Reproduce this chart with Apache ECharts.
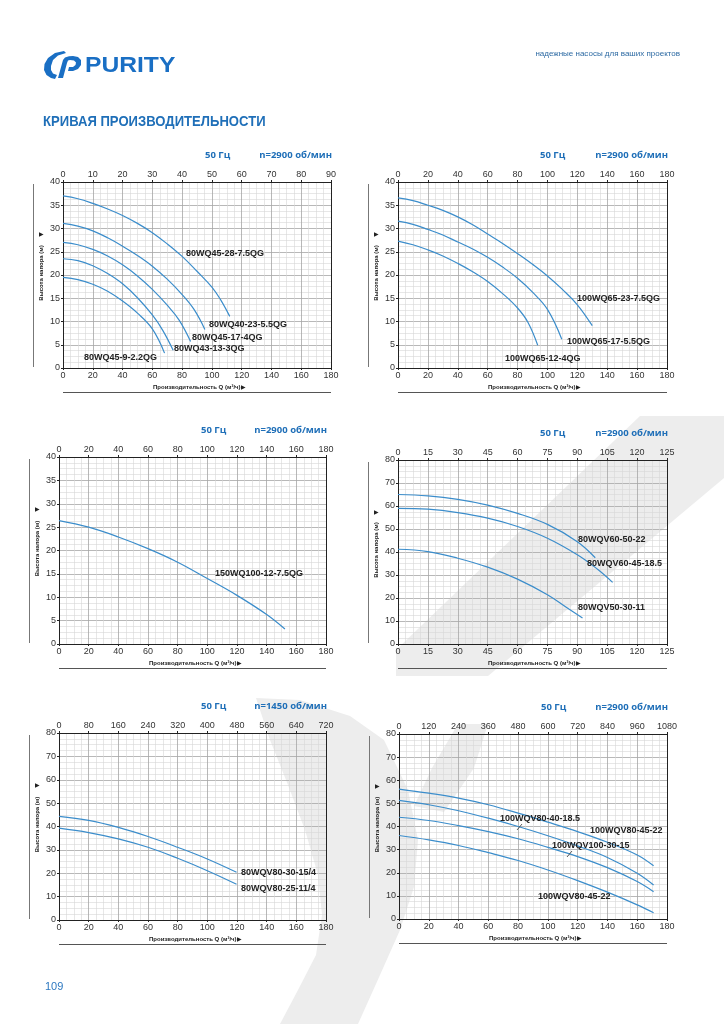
<!DOCTYPE html>
<html>
<head>
<meta charset="utf-8">
<script src="https://cdn.jsdelivr.net/npm/echarts@6/dist/echarts.min.js"></script>
<style>
html,body{margin:0;padding:0;background:#fff;}
#page{width:724px;height:1024px;}
</style>
</head>
<body>
<div id="page"></div>
<script>
// --- data, Q (m3/h) / H (m) pairs ---
// chart 1
var wq45_28_75 = [[0,37],[10,36.4],[20,35.4],[30,34.2],[40,32.8],[50,31.1],[60,29.1],[70,26.7],[80,24],[90,20.8],[100,17.4],[106,14.6],[112,11.1]];
var wq40_23_55 = [[0,31.1],[10,30.5],[20,29.5],[30,28],[40,26.2],[50,24.2],[60,21.9],[70,19.1],[80,15.8],[88,12.6],[95.3,8.3]];
var wq45_17_4 = [[0,27],[10,26.5],[20,25.5],[30,24.1],[40,22.2],[50,19.8],[60,16.9],[70,13.5],[78,10.3],[85.7,5.7]];
var wq43_13_3 = [[0,23.5],[10,23.1],[20,22],[30,20.3],[40,18.1],[50,15.1],[60,11.4],[67,8.1],[74,3.8]];
var wq45_9_22 = [[0,19.5],[10,19],[20,18],[30,16.5],[40,14.4],[50,11.8],[60,8.4],[68.2,3.2]];
// chart 2
var wq65_23_75 = [[0,36.6],[10,36],[20,35],[30,33.9],[40,32.5],[50,30.8],[60,28.8],[70,26.8],[80,24.6],[90,22.3],[100,19.8],[110,16.9],[120,13.6],[130,9.1]];
var wq65_17_55 = [[0,31.6],[10,30.9],[20,29.8],[30,28.6],[40,27.1],[50,25.6],[60,23.8],[70,21.7],[80,19.3],[90,16.3],[100,12.6],[109.6,6.2]];
var wq65_12_4 = [[0,27.3],[10,26.5],[20,25.4],[30,24.1],[40,22.5],[50,20.7],[60,18.6],[70,16],[80,12.9],[87,9.8],[93.5,4.9]];
// chart 3
var wq100_12_75 = [[0,26.4],[20,25],[40,22.9],[60,20.4],[80,17.5],[100,14],[120,10.4],[140,6.3],[152.3,3.2]];
// chart 4 (axis drawn 0..135, last label printed as 125)
var wqv60_50_22 = [[0,65],[15,64.4],[30,62.9],[45,60.4],[60,56.8],[75,52],[90,44.5],[99,37.5]];
var wqv60_45_185 = [[0,59],[15,58.6],[30,57.1],[45,54.7],[60,51.1],[75,46],[90,38.8],[100,32.6],[107.7,26.8]];
var wqv50_30_11 = [[0,41.2],[15,40.2],[30,37.3],[45,33.4],[60,28.2],[75,21.4],[85,15.6],[92.6,11.3]];
// chart 5
var wqv80_30_154 = [[0,44.3],[20,42.6],[40,39.6],[60,35.7],[80,31.1],[100,26.1],[119.7,20.4]];
var wqv80_25_114 = [[0,39.3],[20,37.4],[40,34.7],[60,31.1],[80,26.4],[100,21.1],[119.7,15.3]];
// chart 6
var wqv80_45_22a = [[0,56.2],[20,54.4],[40,52.3],[60,49.4],[80,45.8],[100,41.9],[120,37.8],[140,33.2],[160,27.7],[171,23]];
var wqv80_40_185 = [[0,51.3],[20,49.4],[40,46.8],[60,43.6],[80,40],[100,36],[120,31.6],[140,26.6],[160,19.8],[171,14.7]];
var wqv100_30_15 = [[0,44],[20,42.6],[40,40.4],[60,37.8],[80,34.7],[100,31],[120,27],[140,22.2],[160,16.2],[171,11.8]];
var wqv80_45_22b = [[0,36.1],[20,34.2],[40,31.8],[60,28.7],[80,25.3],[100,21.2],[120,16.6],[140,11.6],[160,6.1],[171,2.7]];

var panels = [
  {box:[63,182,331,368], xMax:180, xInt:20, topMax:90, topInt:10, yMax:40, yInt:5, rpm:'n=2900 об/мин',
   curves:[wq45_28_75, wq40_23_55, wq45_17_4, wq43_13_3, wq45_9_22],
   names:[['80WQ45-28-7.5QG',186,254],['80WQ40-23-5.5QG',209,325],['80WQ45-17-4QG',192,338],['80WQ43-13-3QG',174,349],['80WQ45-9-2.2QG',84,358]]},
  {box:[398,182,667,368], xMax:180, xInt:20, topMax:180, topInt:20, yMax:40, yInt:5, rpm:'n=2900 об/мин',
   curves:[wq65_23_75, wq65_17_55, wq65_12_4],
   names:[['100WQ65-23-7.5QG',577,299],['100WQ65-17-5.5QG',567,342],['100WQ65-12-4QG',505,359]]},
  {box:[59,457,326,644], xMax:180, xInt:20, topMax:180, topInt:20, yMax:40, yInt:5, rpm:'n=2900 об/мин',
   curves:[wq100_12_75],
   names:[['150WQ100-12-7.5QG',215,574]]},
  {box:[398,460,667,644], xMax:135, xInt:15, topMax:135, topInt:15, yMax:80, yInt:10, rpm:'n=2900 об/мин', odd:true,
   curves:[wqv60_50_22, wqv60_45_185, wqv50_30_11],
   names:[['80WQV60-50-22',578,540],['80WQV60-45-18.5',587,564],['80WQV50-30-11',578,608]]},
  {box:[59,733,326,920], xMax:180, xInt:20, topMax:720, topInt:80, yMax:80, yInt:10, rpm:'n=1450 об/мин',
   curves:[wqv80_30_154, wqv80_25_114],
   names:[['80WQV80-30-15/4',241,873],['80WQV80-25-11/4',241,889]]},
  {box:[399,734,667,919], xMax:180, xInt:20, topMax:1080, topInt:120, yMax:80, yInt:10, rpm:'n=2900 об/мин',
   curves:[wqv80_45_22a, wqv80_40_185, wqv100_30_15, wqv80_45_22b],
   names:[['100WQV80-40-18.5',500,819],['100WQV80-45-22',590,831],['100WQV100-30-15',552,846],['100WQV80-45-22',538,897]]}
];

var FONT = 'Liberation Sans, Arial, sans-serif';
var BLUE = '#1f6fb8';
var grids = [], xAxes = [], yAxes = [], series = [], gfx = [];

function plainLabel(v){ return String(v); }
function oddLabel(v){ return v === 135 ? '125' : String(v); }

// faint logo watermark behind the lower panels
var wmBand = [[640,416],[724,416],[724,478],[488,676],[396,676],[396,650]];
var wmHook = [[458,724],[488,724],[474,768],[444,812],[414,806],[432,768]];
var wmArc = [[256,698],[300,700],[350,716],[384,740],[408,790],[418,840],[414,887],[400,930],[380,975],[358,1024],[280,1024],
             [298,990],[316,955],[322,915],[318,875],[305,830],[288,785],[270,740]];
[wmBand, wmHook, wmArc].forEach(function(pts){
  gfx.push({type:'polygon', z:-5, silent:true, shape:{points:pts}, style:{fill:'#ededed'}});
});

panels.forEach(function(p, i){
  var l = p.box[0], t = p.box[1], r = p.box[2], b = p.box[3];
  grids.push({left:l, top:t, width:r-l, height:b-t, containLabel:false});
  var lab = {fontSize:9, color:'#333', fontFamily:FONT, margin:3, formatter:p.odd ? oddLabel : plainLabel};
  xAxes.push({type:'value', gridIndex:i, position:'bottom', min:0, max:p.xMax, interval:p.xInt,
    axisLine:{show:true, onZero:false, lineStyle:{color:'#222', width:1}},
    axisTick:{show:true, length:2, lineStyle:{color:'#222'}},
    axisLabel:lab,
    splitLine:{show:true, lineStyle:{color:'#a6a6a6', width:0.8}},
    minorTick:{show:false, splitNumber:4},
    minorSplitLine:{show:true, lineStyle:{color:'#d6d6d6', width:0.6}}});
  xAxes.push({type:'value', gridIndex:i, position:'top', min:0, max:p.topMax, interval:p.topInt,
    axisLine:{show:true, onZero:false, lineStyle:{color:'#222', width:1}},
    axisTick:{show:true, length:2, lineStyle:{color:'#222'}},
    axisLabel:{fontSize:9, color:'#333', fontFamily:FONT, margin:3, formatter:p.odd ? oddLabel : plainLabel},
    splitLine:{show:false}});
  yAxes.push({type:'value', gridIndex:i, position:'left', min:0, max:p.yMax, interval:p.yInt,
    axisLine:{show:true, onZero:false, lineStyle:{color:'#222', width:1}},
    axisTick:{show:true, length:2, lineStyle:{color:'#222'}},
    axisLabel:{fontSize:9, color:'#333', fontFamily:FONT, margin:3},
    splitLine:{show:true, lineStyle:{color:'#a6a6a6', width:0.8}},
    minorTick:{show:false, splitNumber:4},
    minorSplitLine:{show:true, lineStyle:{color:'#d6d6d6', width:0.6}}});
  yAxes.push({type:'value', gridIndex:i, position:'right', min:0, max:p.yMax, interval:p.yInt,
    axisLine:{show:true, onZero:false, lineStyle:{color:'#222', width:1}},
    axisTick:{show:false}, axisLabel:{show:false}, splitLine:{show:false}});

  p.curves.forEach(function(c){
    series.push({type:'line', xAxisIndex:2*i, yAxisIndex:2*i, data:c, smooth:0.4,
      showSymbol:false, silent:true, lineStyle:{color:'#3b8dcb', width:1.2}, z:5});
  });
  p.names.forEach(function(n){
    gfx.push({type:'text', x:n[1], y:n[2], z:20, style:{text:n[0], fill:'#222',
      font:'bold 9px ' + FONT, align:'left', verticalAlign:'middle'}});
  });

  // headings above each panel
  var ty = t - 27;
  gfx.push({type:'text', x:l + 142, y:ty, style:{text:'50 Гц', fill:BLUE, font:'bold 9.5px Open Sans, sans-serif', align:'left', verticalAlign:'middle'}});
  gfx.push({type:'text', x:r + 1, y:ty, style:{text:p.rpm, fill:BLUE, font:'bold 9.5px Open Sans, sans-serif', align:'right', verticalAlign:'middle'}});
  // axis names
  var mid = (t + b) / 2;
  gfx.push({type:'text', x:l - 22, y:mid - 2, rotation:Math.PI/2, style:{text:'Высота напора (м)', fill:'#222',
    font:'bold 6px ' + FONT, align:'center', verticalAlign:'middle'}});
  gfx.push({type:'text', x:l - 22, y:t + 52, style:{text:'▶', fill:'#222', font:'6px ' + FONT, align:'center', verticalAlign:'middle'}});
  gfx.push({type:'line', shape:{x1:l - 29.5, y1:t + 2, x2:l - 29.5, y2:b - 1}, style:{stroke:'#777', lineWidth:1}});
  gfx.push({type:'text', x:l + 90, y:b + 19, style:{text:'Производительность Q (м³/ч)', fill:'#222',
    font:'bold 6px ' + FONT, align:'left', verticalAlign:'middle'}});
  gfx.push({type:'text', x:l + 180, y:b + 19, style:{text:'▶', fill:'#222', font:'6px ' + FONT, align:'center', verticalAlign:'middle'}});
  gfx.push({type:'line', shape:{x1:l, y1:b + 24.5, x2:r, y2:b + 24.5}, style:{stroke:'#555', lineWidth:1}});
});

// small leader ticks in the last panel
gfx.push({type:'line', z:20, shape:{x1:517, y1:830, x2:522, y2:824}, style:{stroke:'#333', lineWidth:0.8}});
gfx.push({type:'line', z:20, shape:{x1:567, y1:857, x2:572, y2:851}, style:{stroke:'#333', lineWidth:0.8}});

// page header: logo mark built from two polygons
var logoSwoosh = [[22,1],[13,3],[6,8],[2.5,14],[2,20],[4.5,25],[9,28],[13,29],[15,25],[11,23.5],[9,20],[9,16],[11,10],[16,5.5],[24,3]];
var logoP = [[16,28],[21,10],[23,7.5],[27,6.2],[31,6],[36,7],[39,10],[39,15],[36,19],[31,21],[26,21],[27,17],[31,17],[33.5,15],[34,12.5],[32,10.5],[28,10],[26,10.5],[25,13],[21,28]];
gfx.push({type:'group', x:42, y:50, children:[
  {type:'polygon', shape:{points:logoSwoosh}, style:{fill:'#1a6fc4'}},
  {type:'polygon', shape:{points:logoP}, style:{fill:'#1a6fc4'}}
]});
gfx.push({type:'text', x:85, y:66, scaleX:1.12, style:{text:'PURITY', fill:'#1a6fc4', font:'bold 22px ' + FONT, align:'left', verticalAlign:'middle'}});
gfx.push({type:'text', x:680, y:54, style:{text:'надежные насосы для ваших проектов', fill:'#2d6aa3', font:'8px ' + FONT, align:'right', verticalAlign:'middle'}});
gfx.push({type:'text', x:43, y:122, scaleX:0.935, style:{text:'КРИВАЯ ПРОИЗВОДИТЕЛЬНОСТИ', fill:BLUE, font:'bold 14px ' + FONT, align:'left', verticalAlign:'middle'}});
gfx.push({type:'text', x:45, y:987, style:{text:'109', fill:'#2d78c0', font:'11px ' + FONT, align:'left', verticalAlign:'middle'}});

var chart = echarts.init(document.getElementById('page'), null, {renderer:'canvas'});
chart.setOption({
  backgroundColor:'#fff',
  animation:false,
  grid:grids,
  xAxis:xAxes,
  yAxis:yAxes,
  series:series,
  graphic:gfx
});
</script>
</body>
</html>
